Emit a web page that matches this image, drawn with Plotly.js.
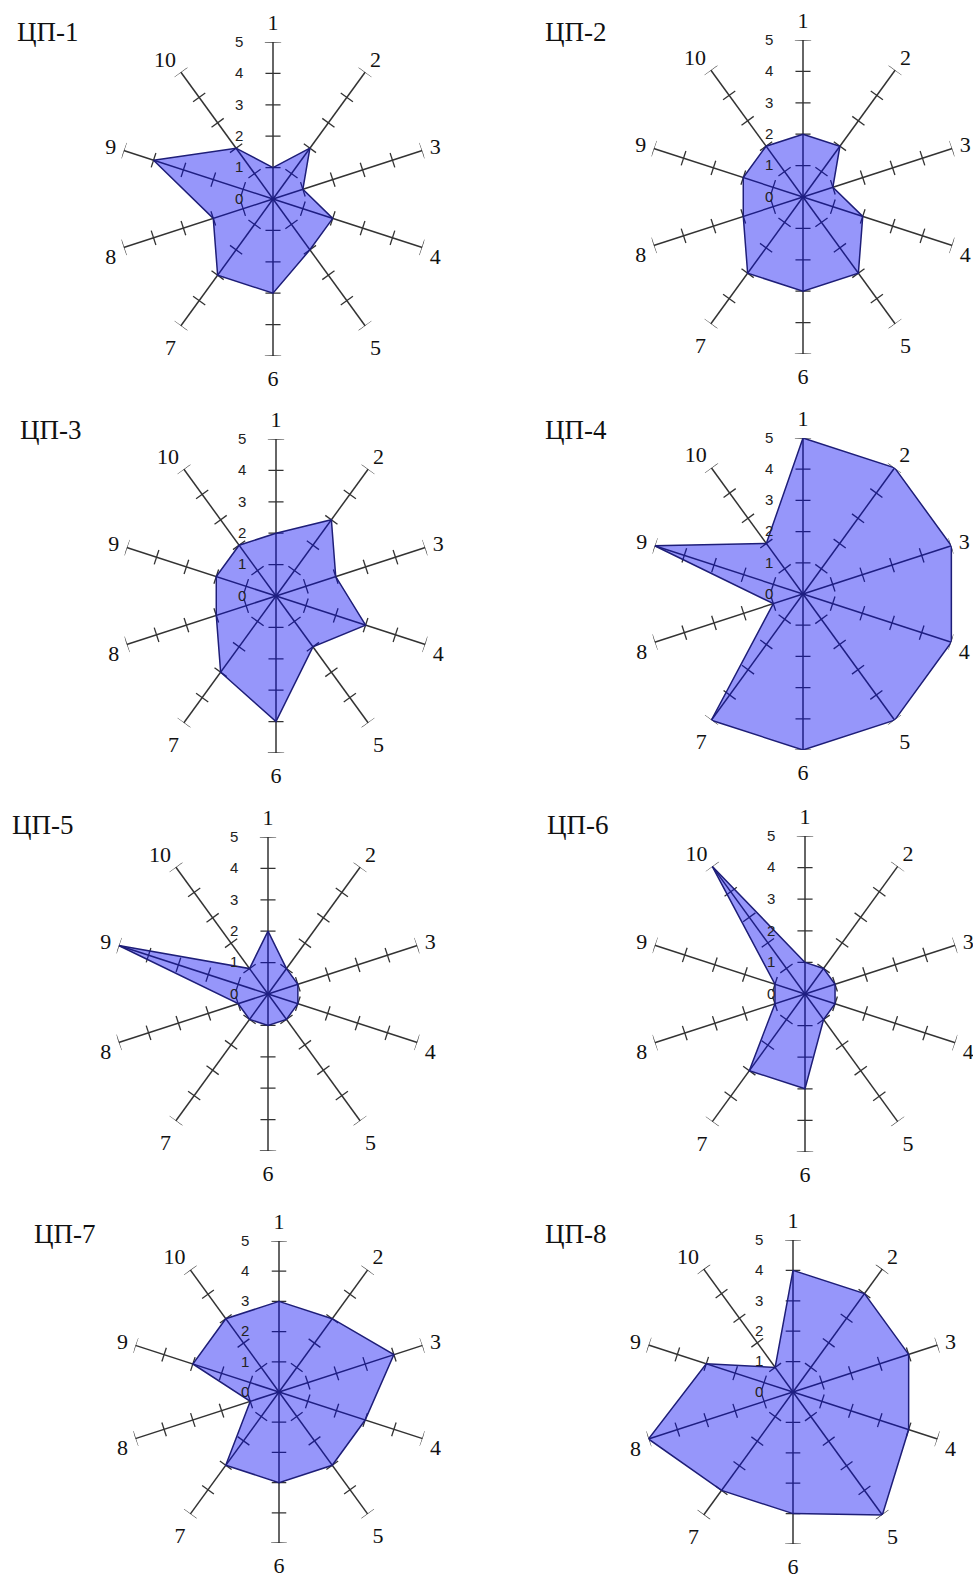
<!DOCTYPE html>
<html>
<head>
<meta charset="utf-8">
<script src="https://cdn.plot.ly/plotly-3.0.1.min.js"></script>
<style>
html,body{margin:0;padding:0;background:#ffffff;}
#chart{width:973px;height:1580px;}
</style>
</head>
<body>
<div id="chart"></div>
<script>
// ---- data ----
const axisLabels = ["1","2","3","4","5","6","7","8","9","10"];
const radialTicks = [0,1,2,3,4,5];
const radialTickText = ["0","1","2","3","4","5"];
const chartTitles = ["ЦП-1","ЦП-2","ЦП-3","ЦП-4","ЦП-5","ЦП-6","ЦП-7","ЦП-8"];
const cp1 = [1,2,1,2,2,3,3,2,4,2];
const cp2 = [2,2,1,2,3,3,3,2,2,2];
const cp3 = [2,3,2,3,2,4,3,2,2,2];
const cp4 = [5,5,5,5,5,5,5,1,5,2];
const cp5 = [2,1,1,1,1,1,1,1,5,1];
const cp6 = [1,1,1,1,1,3,3,1,1,5];
const cp7 = [3,3,4,3,3,3,3,1,3,3];
const cp8 = [4,4,4,4,5,4,4,5,3,1];
const seriesValues = [cp1,cp2,cp3,cp4,cp5,cp6,cp7,cp8];

// ---- layout geometry (pixels) ----
const W = 973, H = 1580;
const centers = [
  [273,199,157],[803,197,157],
  [276,596,157],[803,594,156],
  [268,994,157],[805,994,158],
  [279,1392,151],[793,1392,152]
];
const titlePos = [[15,32],[543,32],[18,430],[543,430],[10,825],[545,825],[32,1234],[543,1234]];

const rMax = radialTicks[radialTicks.length-1];
const angles = axisLabels.map((_, i) => i * 360 / axisLabels.length);

function axisTraces(sub){
  const sr = [], st = [], tr = [], tt = [];
  angles.forEach(a => {
    sr.push(0, rMax, null); st.push(a, a, null);
    radialTicks.forEach(v => {
      if (v === 0) return;
      const h = (v === rMax) ? 0.26 : 0.24;
      const rr = Math.sqrt(v*v + h*h);
      const da = Math.atan(h / v) * 180 / Math.PI;
      tr.push(rr, rr, null); tt.push(a - da, a + da, null);
    });
  });
  return [
    {type:'scatterpolar', subplot:sub, r:sr, theta:st, mode:'lines',
     line:{color:'#333333', width:1.5}, cliponaxis:false, hoverinfo:'skip', showlegend:false},
    {type:'scatterpolar', subplot:sub, r:tr, theta:tt, mode:'lines',
     line:{color:'#333333', width:1.3}, cliponaxis:false, hoverinfo:'skip', showlegend:false}
  ];
}

const data = [];
const layout = {
  width: W, height: H,
  margin: {l:0, r:0, t:0, b:0},
  paper_bgcolor: '#ffffff',
  showlegend: false,
  annotations: []
};

seriesValues.forEach((vals, i) => {
  const sub = i === 0 ? 'polar' : 'polar' + (i + 1);
  axisTraces(sub).forEach(t => data.push(t));
  data.push({
    type:'scatterpolar', subplot:sub,
    r: vals.concat([vals[0]]),
    theta: angles.concat([angles[0]]),
    mode:'lines', fill:'toself',
    fillcolor:'rgba(2,2,243,0.415)',
    line:{color:'#1e1e78', width:1.5},
    cliponaxis:false, hoverinfo:'skip', showlegend:false
  });
  const [cx, cy, R] = centers[i];
  layout[sub] = {
    domain: {x:[(cx - R)/W, (cx + R)/W], y:[1 - (cy + R)/H, 1 - (cy - R)/H]},
    bgcolor: 'rgba(0,0,0,0)',
    radialaxis: {
      range:[0, rMax], angle:90, side:'counterclockwise', tickangle:90,
      tickmode:'array', tickvals:radialTicks, ticktext:radialTickText,
      showgrid:false, showline:false,
      ticks:'outside', ticklen:24, tickcolor:'rgba(0,0,0,0)',
      tickfont:{family:'Liberation Sans', size:15, color:'#222'}
    },
    angularaxis: {
      type:'linear', rotation:90, direction:'clockwise',
      tickmode:'array', tickvals:angles, ticktext:axisLabels,
      showgrid:false, showline:false,
      ticks:'outside', ticklen:3, tickcolor:'rgba(0,0,0,0)',
      tickfont:{family:'Liberation Serif', size:22, color:'#111'}
    }
  };
  layout.annotations.push({
    xref:'paper', yref:'paper',
    x: titlePos[i][0]/W, y: 1 - titlePos[i][1]/H,
    xanchor:'left', yanchor:'middle',
    text: chartTitles[i], showarrow:false,
    font:{family:'Liberation Serif', size:27, color:'#111'}
  });
});

Plotly.newPlot('chart', data, layout, {staticPlot:true, displayModeBar:false});
</script>
</body>
</html>
